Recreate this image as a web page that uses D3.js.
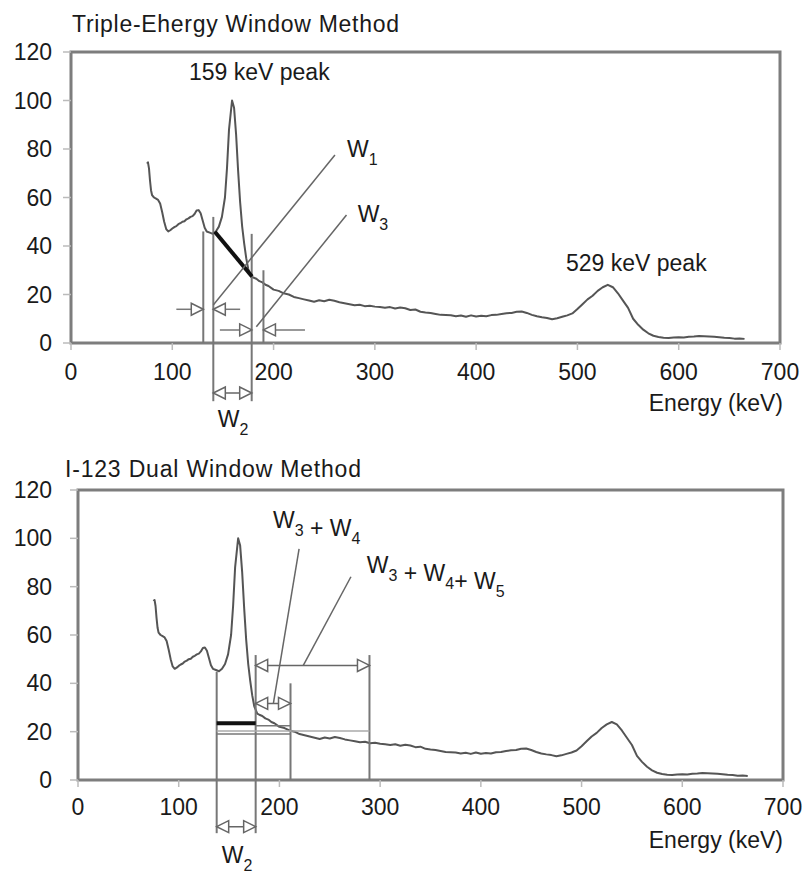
<!DOCTYPE html>
<html>
<head>
<meta charset="utf-8">
<script src="https://cdn.jsdelivr.net/npm/d3@7"></script>
<style>
  body { margin: 0; background: #fff; }
  svg text { font-family: "Liberation Sans", Arial, sans-serif; fill: #1a1a1a; }
</style>
</head>
<body>
<svg id="chart" width="803" height="888"></svg>
<script>
// spectrum (keV, relative counts)
const energy = [75, 76, 77, 78, 79, 80, 82, 84, 86, 88, 90, 92, 94, 96, 98, 100, 102, 104, 106, 108,
    110, 112, 114, 116, 118, 120, 122, 124, 126, 128, 130, 132, 134, 137, 140, 143, 146, 149, 152, 154,
    156, 159, 161, 163, 165, 167, 169, 171, 173, 175, 178, 180, 183, 186, 189, 192, 195, 200, 205, 210,
    215, 220, 225, 230, 235, 240, 245, 250, 255, 260, 265, 270, 275, 280, 285, 290, 295, 300, 305, 310,
    315, 320, 325, 330, 335, 340, 345, 350, 355, 360, 365, 370, 375, 380, 385, 390, 395, 400, 405, 410,
    415, 420, 425, 430, 435, 440, 445, 450, 455, 460, 465, 470, 475, 480, 485, 490, 495, 500, 505, 510,
    515, 520, 525, 530, 535, 540, 545, 550, 555, 560, 565, 570, 575, 580, 585, 590, 595, 600, 605, 610,
    615, 620, 625, 630, 635, 640, 645, 650, 655, 660, 665];
const counts = [74, 74.5, 72, 67, 63, 61, 60, 59.5, 59, 57.5, 54, 50, 47, 46, 46.5, 47.2, 47.8, 48.2, 49, 49.4,
    50, 50.2, 51, 51.4, 52, 52.3, 53.2, 54.6, 54.8, 53.5, 50.5, 47.5, 46, 45.5, 45, 46, 48, 52, 60, 72,
    88, 100, 97, 86, 71, 58, 48, 41, 35, 30.5, 27.5, 27, 26.5, 25.5, 25, 24, 23.5, 22, 21.5, 20.5,
    20, 19, 18.5, 18, 17.5, 17, 17.6, 17.2, 17.8, 17.4, 16.8, 16.4, 16, 15.6, 15.8, 15.2, 15.4, 15, 14.8, 14.5,
    14.8, 14.2, 14.6, 14.3, 13.6, 13.8, 12.9, 12.6, 12.4, 12, 11.6, 11.5, 11.4, 11, 11.3, 10.8, 11.4, 10.9, 11.2, 11,
    11.5, 11.6, 12, 12.3, 12.4, 12.9, 13, 12.4, 11.6, 11, 10.6, 10.3, 9.8, 10.2, 10.8, 11.4, 12.2, 14, 16, 18,
    19.5, 21.5, 23, 24, 23, 20.5, 17.5, 14.5, 10, 7.5, 5.5, 4, 3, 2.5, 2.2, 2.1, 2.3, 2.4, 2.3, 2.6,
    2.7, 2.9, 2.8, 2.7, 2.6, 2.4, 2.2, 2.1, 1.8, 1.9, 1.7];

const xTicks = [0, 100, 200, 300, 400, 500, 600, 700];
const yTicks = [0, 20, 40, 60, 80, 100, 120];

// triple energy window annotations (keV, counts)
const tewVerticals = [[130.6, 46, 0], [140.5, 52, -24], [178.4, 45, -24], [190, 30, 0]];
const tewThick = [[142, 45.9], [178.7, 27.4]];
// arrows: [from keV, tip keV, level]
const tewArrows = [[104, 130.6, 13.9], [167, 140.5, 13.9], [147, 178.4, 5.4], [231, 190, 5.4]];
const tewLeaders = [[[140.5, 15.7], [260.6, 77.5]], [[183, 6.7], [272, 52.8]]];
const tewW2 = [140.5, 178.4, -20.6];

// dual window annotations
const dwVerticals = [[137.7, 44.8, -22], [176.4, 51.7, -22], [211, 40, 0], [289.4, 51.7, 0]];
const dwDouble = [[176.4, 289.4, 47.4], [176.4, 211, 31.7], [137.7, 176.4, -19.3]];
const dwLevels = [[137.7, 176.4, 23.5, 'thick'], [176.4, 211, 22.5, 'dark'], [137.7, 289.4, 20.3, 'light'], [137.7, 211, 19.0, 'dark']];
const dwLeaders = [[[194, 31.7], [219.5, 95.6]], [[223.7, 47.4], [271, 84.1]]];

const svg = d3.select('#chart');

function drawPanel(box) {
    const g = svg.append('g');
    const x = d3.scaleLinear().domain([0, 700]).range([box.left, box.right]);
    const y = d3.scaleLinear().domain([0, 120]).range([box.bottom, box.top]);

    // title
    g.append('text').attr('x', box.titleX).attr('y', box.titleY)
        .attr('font-size', '23px').attr('textLength', box.titleLen).text(box.title);

    // frame
    g.append('rect')
        .attr('x', box.left).attr('y', box.top)
        .attr('width', box.right - box.left).attr('height', box.bottom - box.top)
        .attr('fill', 'none').attr('stroke', '#7d7d7d').attr('stroke-width', 3);

    // ticks + labels
    g.selectAll('.xt').data(xTicks).join('line')
        .attr('x1', d => x(d)).attr('x2', d => x(d))
        .attr('y1', box.bottom).attr('y2', box.bottom + 7)
        .attr('stroke', '#bbb').attr('stroke-width', 1.5);
    g.selectAll('.xl').data(xTicks).join('text')
        .attr('x', d => x(d)).attr('y', box.bottom + box.xLabelDy)
        .attr('text-anchor', 'middle').attr('font-size', '23px').text(d => d);
    g.selectAll('.yt').data(yTicks).join('line')
        .attr('x1', box.left - 8).attr('x2', box.left)
        .attr('y1', d => y(d)).attr('y2', d => y(d))
        .attr('stroke', '#bbb').attr('stroke-width', 1.5);
    g.selectAll('.yl').data(yTicks).join('text')
        .attr('x', 52).attr('y', d => y(d) + 8)
        .attr('text-anchor', 'end').attr('font-size', '23px').text(d => d);

    g.append('text').attr('x', 783).attr('y', box.bottom + 68)
        .attr('text-anchor', 'end').attr('font-size', '23px').text('Energy (keV)');

    // spectrum
    const line = d3.line().x((d, i) => x(energy[i])).y(d => y(d));
    g.append('path').datum(counts)
        .attr('d', line)
        .attr('fill', 'none').attr('stroke', '#555').attr('stroke-width', 2)
        .attr('stroke-linejoin', 'round');

    return { g, x, y };
}

function seg(g, x1, y1, x2, y2, color, w) {
    return g.append('line')
        .attr('x1', x1).attr('y1', y1).attr('x2', x2).attr('y2', y2)
        .attr('stroke', color).attr('stroke-width', w);
}

// open triangle head, tip at (tx, ty), pointing in direction dir (+1 right, -1 left)
function head(g, tx, ty, dir) {
    const L = 12, H = 6;
    g.append('path')
        .attr('d', `M${tx},${ty} L${tx - dir * L},${ty - H} L${tx - dir * L},${ty + H} Z`)
        .attr('fill', '#fff').attr('stroke', '#666').attr('stroke-width', 1.5);
}

function wLabel(g, px, py, parts) {
    const t = g.append('text').attr('x', px).attr('y', py).attr('font-size', '23px');
    parts.forEach(p => {
        t.append('tspan').text(p.main);
        t.append('tspan').attr('font-size', '16px').attr('dy', 8).text(p.sub);
        t.append('tspan').attr('dy', -8).text('');
    });
}

function doubleArrow(g, xa, xb, yy) {
    seg(g, xa, yy, xb, yy, '#666', 1.5);
    head(g, xa, yy, -1);
    head(g, xb, yy, 1);
}

// ---------- top panel: triple energy window ----------
const tewPanel = drawPanel({
    left: 71, right: 780, top: 52, bottom: 343,
    title: 'Triple-Ehergy Window Method', titleX: 72, titleY: 32, titleLen: 327, xLabelDy: 37
});
(function () {
    const { g, x, y } = tewPanel;
    tewVerticals.forEach(v => seg(g, x(v[0]), y(v[1]), x(v[0]), y(v[2]), '#777', 2));
    seg(g, x(tewThick[0][0]), y(tewThick[0][1]), x(tewThick[1][0]), y(tewThick[1][1]), '#111', 4);
    tewLeaders.forEach(l => seg(g, x(l[0][0]), y(l[0][1]), x(l[1][0]), y(l[1][1]), '#666', 1.5));
    tewArrows.forEach(a => {
        seg(g, x(a[0]), y(a[2]), x(a[1]), y(a[2]), '#777', 1.5);
        head(g, x(a[1]), y(a[2]), a[1] > a[0] ? 1 : -1);
    });
    doubleArrow(g, x(tewW2[0]), x(tewW2[1]), y(tewW2[2]));

    g.append('text').attr('x', x(116.5)).attr('y', y(108.5)).attr('font-size', '23px').text('159 keV peak');
    g.append('text').attr('x', x(488.7)).attr('y', y(29.7)).attr('font-size', '23px').text('529 keV peak');
    wLabel(g, x(272.5), y(76.7), [{ main: 'W', sub: '1' }]);
    wLabel(g, x(283), y(50), [{ main: 'W', sub: '3' }]);
    wLabel(g, x(145), y(-34.5), [{ main: 'W', sub: '2' }]);
})();

// ---------- bottom panel: dual window ----------
const dwPanel = drawPanel({
    left: 78, right: 783, top: 490, bottom: 780,
    title: 'I-123 Dual Window Method', titleX: 65, titleY: 477, titleLen: 296, xLabelDy: 35
});
(function () {
    const { g, x, y } = dwPanel;
    dwVerticals.forEach(v => seg(g, x(v[0]), y(v[1]), x(v[0]), y(v[2]), '#777', 2));
    const lvlStyle = { thick: ['#111', 4], dark: ['#777', 1.5], light: ['#aaa', 1.5] };
    dwLevels.forEach(l => seg(g, x(l[0]), y(l[2]), x(l[1]), y(l[2]), lvlStyle[l[3]][0], lvlStyle[l[3]][1]));
    dwLeaders.forEach(l => seg(g, x(l[0][0]), y(l[0][1]), x(l[1][0]), y(l[1][1]), '#666', 1.5));
    dwDouble.forEach(d => doubleArrow(g, x(d[0]), x(d[1]), y(d[2])));

    wLabel(g, x(193.6), y(104.3), [{ main: 'W', sub: '3' }, { main: ' + W', sub: '4' }]);
    wLabel(g, x(286.7), y(85.7), [{ main: 'W', sub: '3' }, { main: ' + W', sub: '4' }, { main: '+ W', sub: '5' }]);
    wLabel(g, x(142.7), y(-34.3), [{ main: 'W', sub: '2' }]);
})();
</script>
</body>
</html>
